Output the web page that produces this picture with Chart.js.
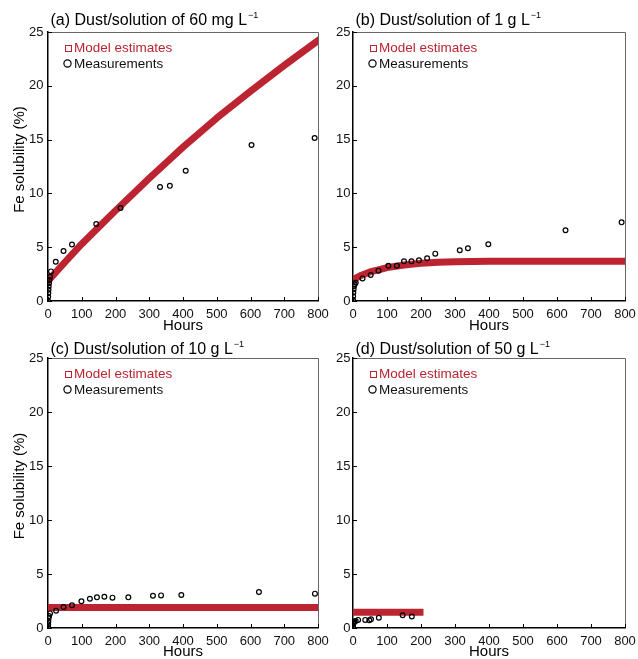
<!DOCTYPE html>
<html>
<head>
<meta charset="utf-8">
<title>Fe solubility vs hours</title>
<script src="https://cdn.jsdelivr.net/npm/chart.js@4.4.1/dist/chart.umd.min.js"></script>
<style>
  html, body { margin: 0; padding: 0; background: #fff; overflow: hidden; }
  #wrap { position: relative; width: 638px; height: 659px; }
  .pane { position: absolute; }
</style>
</head>
<body>
<div id="wrap">
  <div class="pane" style="left:0;top:0;width:340px;height:340px"><canvas id="chartA"></canvas></div>
  <div class="pane" style="left:320px;top:0;width:318px;height:340px"><canvas id="chartB"></canvas></div>
  <div class="pane" style="left:0;top:335px;width:340px;height:324px"><canvas id="chartC"></canvas></div>
  <div class="pane" style="left:320px;top:335px;width:318px;height:324px"><canvas id="chartD"></canvas></div>
</div>
<script>
/* Fe solubility (%) vs hours, four dust/solution ratios */

const RED = '#bb2430';
const FONT = '"Liberation Sans", Arial, sans-serif';

// (a) 60 mg/L
const measHoursA = [0, 0.5, 1, 1.5, 2, 3, 4, 6, 9, 23, 46, 71, 143, 215, 332, 361, 408, 603, 790];
const measValsA  = [0, 0.4, 0.75, 1.05, 1.35, 1.65, 1.95, 2.25, 2.75, 3.65, 4.65, 5.25, 7.15, 8.65, 10.6, 10.7, 12.1, 14.5, 15.15];
const modelHoursA = [0, 1, 50, 100, 150, 200, 250, 300, 350, 400, 500, 600, 700, 800];
const modelValsA  = [0, 1.9, 3.6, 5.3, 6.85, 8.4, 9.9, 11.4, 12.85, 14.3, 17.0, 19.5, 21.9, 24.2];

// (b) 1 g/L
const measHoursB = [0, 0.5, 1, 2, 3, 5, 8, 28, 52, 75, 104, 129, 150, 172, 194, 218, 242, 314, 338, 398, 625, 790];
const measValsB  = [0.1, 0.45, 0.8, 1.1, 1.4, 1.55, 1.7, 2.1, 2.42, 2.82, 3.28, 3.28, 3.69, 3.69, 3.78, 3.97, 4.4, 4.71, 4.9, 5.27, 6.57, 7.31];
const modelHoursB = [0, 1, 10, 25, 50, 75, 100, 150, 200, 250, 300, 400, 800];
const modelValsB  = [0, 1.95, 2.15, 2.4, 2.7, 2.9, 3.1, 3.35, 3.5, 3.6, 3.65, 3.7, 3.7];

// (c) 10 g/L
const measHoursC = [0, 0.5, 1, 2, 3, 6, 24, 46, 71, 99, 124, 145, 167, 191, 238, 311, 335, 395, 625, 791];
const measValsC  = [0.1, 0.35, 0.6, 0.9, 1.1, 1.35, 1.6, 1.94, 2.1, 2.47, 2.71, 2.84, 2.9, 2.81, 2.84, 2.99, 3.02, 3.05, 3.33, 3.18];
const modelHoursC = [0, 1, 800];
const modelValsC  = [0, 1.9, 1.9];

// (d) 50 g/L
const measHoursD = [0, 1, 2, 4, 8, 15, 36, 48, 53, 76, 146, 173];
const measValsD  = [0.15, 0.4, 0.5, 0.6, 0.65, 0.75, 0.75, 0.72, 0.8, 0.95, 1.18, 1.07];
const modelHoursD = [0, 1, 197];
const modelValsD  = [0, 1.45, 1.45];

const xTicks = { min: 0, max: 800, step: 100 };
const yTicks = { min: 0, max: 25, step: 5 };

function pairs(xs, ys) {
  return xs.map((x, i) => ({ x, y: ys[i] }));
}

// box, inward tick marks, titles and in-plot legend
const framePlugin = {
  id: 'frame',
  afterDraw(chart, args, opts) {
    const { ctx, chartArea: a, scales: { x, y } } = chart;
    ctx.save();
    ctx.lineWidth = 1;
    ctx.strokeStyle = '#666';
    ctx.beginPath();
    ctx.moveTo(a.left, a.top + 0.5);
    ctx.lineTo(a.right + 0.5, a.top + 0.5);
    ctx.lineTo(a.right + 0.5, a.bottom);
    ctx.stroke();

    ctx.strokeStyle = '#000';
    ctx.beginPath();
    x.ticks.forEach(t => {
      const px = Math.round(x.getPixelForValue(t.value)) + 0.5;
      ctx.moveTo(px, a.bottom);
      ctx.lineTo(px, a.bottom - 4);
    });
    y.ticks.forEach(t => {
      const py = Math.round(y.getPixelForValue(t.value)) + 0.5;
      ctx.moveTo(a.left, py);
      ctx.lineTo(a.left + 4, py);
    });
    ctx.stroke();

    // title with superscript
    ctx.fillStyle = '#000';
    ctx.textBaseline = 'middle';
    ctx.textAlign = 'left';
    ctx.font = '16px ' + FONT;
    const tx = a.left + 2.5;
    ctx.fillText(opts.title, tx, opts.titleY);
    const w = ctx.measureText(opts.title).width;
    ctx.font = '9px ' + FONT;
    ctx.fillText('\u22121', tx + w + 1, opts.titleY - 5);

    // y axis title
    if (opts.yTitle) {
      ctx.save();
      ctx.translate(20, (a.top + a.bottom) / 2 - 7);
      ctx.rotate(-Math.PI / 2);
      ctx.textAlign = 'center';
      ctx.font = '15px ' + FONT;
      ctx.fillText('Fe solubility (%)', 0, 0);
      ctx.restore();
    }

    // legend
    ctx.font = '13.5px ' + FONT;
    ctx.lineWidth = 1;
    ctx.strokeStyle = RED;
    ctx.strokeRect(a.left + 17.5, a.top + 13.5, 6, 6);
    ctx.fillStyle = RED;
    ctx.fillText('Model estimates', a.left + 26, a.top + 16.5);
    ctx.strokeStyle = '#000';
    ctx.lineWidth = 1.2;
    ctx.beginPath();
    ctx.arc(a.left + 19.5, a.top + 31.5, 3.6, 0, Math.PI * 2);
    ctx.stroke();
    ctx.fillStyle = '#111';
    ctx.fillText('Measurements', a.left + 26, a.top + 32);
    ctx.restore();
  }
};

function makePanel(id, p) {
  const ctx = document.getElementById(id).getContext('2d');
  return new Chart(ctx, {
    type: 'scatter',
    data: {
      datasets: [
        {
          label: 'Measurements',
          data: pairs(p.measHours, p.measVals),
          showLine: false,
          pointStyle: 'circle',
          pointRadius: 2.4,
          pointBorderWidth: 1.2,
          borderColor: '#000',
          backgroundColor: 'rgba(0,0,0,0)'
        },
        {
          label: 'Model estimates',
          data: pairs(p.modelHours, p.modelVals),
          showLine: true,
          borderColor: RED,
          borderWidth: 7,
          borderCapStyle: 'square',
          borderJoinStyle: 'round',
          tension: 0,
          segment: { borderColor: c => c.p0DataIndex === 0 ? 'rgba(0,0,0,0)' : RED },
          pointStyle: 'rect',
          pointRadius: c => c.dataIndex === 0 ? 2.6 : 0,
          pointBorderColor: RED,
          pointBackgroundColor: '#fff',
          pointBorderWidth: 1
        }
      ]
    },
    options: {
      responsive: true,
      maintainAspectRatio: false,
      animation: false,
      layout: { padding: { left: 0, top: p.padTop, right: p.padRight, bottom: 0 } },
      plugins: {
        legend: { display: false },
        tooltip: { enabled: false },
        frame: { title: p.title, titleY: p.titleY, yTitle: p.yTitle }
      },
      scales: {
        x: {
          type: 'linear',
          min: xTicks.min, max: xTicks.max,
          ticks: { stepSize: xTicks.step, padding: 6, color: '#111', font: { size: 13, family: FONT } },
          grid: { display: false, drawTicks: false },
          border: { display: true, color: '#000', width: 1.5 },
          title: { display: true, text: 'Hours', color: '#000', font: { size: 15, family: FONT }, padding: { top: 0, bottom: p.hoursPad } },
          afterFit: s => { s.height = p.xH; s.paddingLeft = 0; s.paddingRight = 0; }
        },
        y: {
          min: yTicks.min, max: yTicks.max,
          ticks: { stepSize: yTicks.step, padding: p.yPad, color: '#111', font: { size: 13, family: FONT } },
          grid: { display: false, drawTicks: false },
          border: { display: true, color: '#000', width: 1.5 },
          afterFit: s => { s.width = p.yW; s.paddingTop = 0; s.paddingBottom = 0; }
        }
      }
    },
    plugins: [framePlugin]
  });
}

makePanel('chartA', {
  title: '(a) Dust/solution of 60 mg L', titleY: 21,
  measHours: measHoursA, measVals: measValsA, modelHours: modelHoursA, modelVals: modelValsA,
  padTop: 32, padRight: 22, yW: 48, yPad: 4.5, xH: 39, hoursPad: 5, yTitle: true
});
makePanel('chartB', {
  title: '(b) Dust/solution of 1 g L', titleY: 21,
  measHours: measHoursB, measVals: measValsB, modelHours: modelHoursB, modelVals: modelValsB,
  padTop: 32, padRight: 13, yW: 33, yPad: 2.5, xH: 39, hoursPad: 5, yTitle: false
});
makePanel('chartC', {
  title: '(c) Dust/solution of 10 g L', titleY: 14.5,
  measHours: measHoursC, measVals: measValsC, modelHours: modelHoursC, modelVals: modelValsC,
  padTop: 23, padRight: 22, yW: 48, yPad: 4.5, xH: 31, hoursPad: -2, yTitle: true
});
makePanel('chartD', {
  title: '(d) Dust/solution of 50 g L', titleY: 14.5,
  measHours: measHoursD, measVals: measValsD, modelHours: modelHoursD, modelVals: modelValsD,
  padTop: 23, padRight: 13, yW: 33, yPad: 2.5, xH: 31, hoursPad: -2, yTitle: false
});
</script>
</body>
</html>
